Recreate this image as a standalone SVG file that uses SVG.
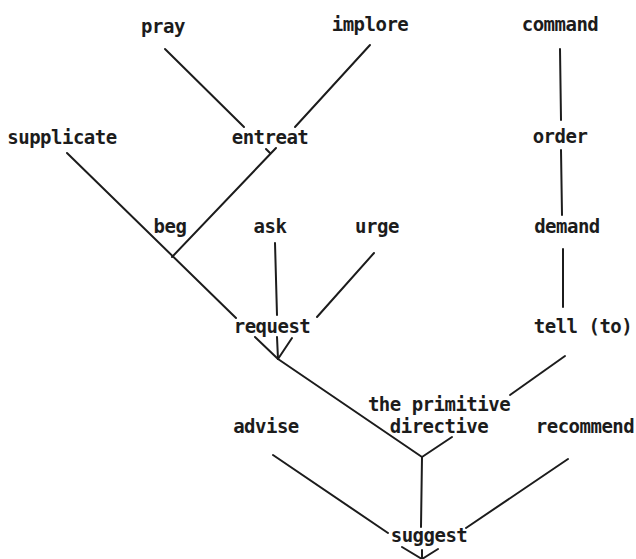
<svg xmlns="http://www.w3.org/2000/svg" width="636" height="559" viewBox="0 0 636 559">
<style>
text{font-family:"DejaVu Sans Mono","Liberation Mono",monospace;font-size:19px;letter-spacing:-0.5px;font-weight:bold;fill:#1c1c1c;text-anchor:middle}
.c line,.c polyline{stroke:#1c1c1c;stroke-width:2;fill:none;stroke-linecap:round}
</style>
<rect width="636" height="559" fill="#fff"/>
<g class="c" id="connectors">
<line x1="165" y1="49" x2="244" y2="127"/>
<line x1="370" y1="45" x2="295" y2="127"/>
<line x1="266" y1="149" x2="270" y2="153"/>
<line x1="276" y1="148" x2="172" y2="257"/>
<line x1="67" y1="153" x2="236" y2="318"/>
<line x1="255" y1="337" x2="278" y2="359"/>
<line x1="275" y1="243" x2="277" y2="315"/>
<line x1="277" y1="337" x2="278" y2="359"/>
<line x1="374" y1="253" x2="317" y2="317"/>
<line x1="292" y1="338" x2="278" y2="359"/>
<line x1="278" y1="359" x2="422" y2="457"/>
<line x1="560" y1="49" x2="561" y2="120"/>
<line x1="561" y1="150" x2="562" y2="215"/>
<line x1="563" y1="249" x2="563" y2="307"/>
<line x1="565" y1="356" x2="510" y2="395"/>
<line x1="452" y1="437" x2="422" y2="457"/>
<line x1="422" y1="457" x2="421" y2="527"/>
<line x1="273" y1="455" x2="388" y2="533"/>
<line x1="568" y1="459" x2="466" y2="528"/>
<line x1="402" y1="547" x2="422" y2="559"/>
<line x1="438" y1="549" x2="422" y2="559"/>
<line x1="422" y1="550" x2="422" y2="559"/>
</g>
<g id="pray"><text x="163" y="33">pray</text></g>
<g id="implore"><text x="370" y="31">implore</text></g>
<g id="command"><text x="560" y="31">command</text></g>
<g id="supplicate"><text x="62" y="144">supplicate</text></g>
<g id="entreat"><text x="270" y="144">entreat</text></g>
<g id="order"><text x="560" y="143">order</text></g>
<g id="beg"><text x="170" y="233">beg</text></g>
<g id="ask"><text x="270" y="233">ask</text></g>
<g id="urge"><text x="377" y="233">urge</text></g>
<g id="demand"><text x="567" y="233">demand</text></g>
<g id="request"><text x="272" y="333">request</text></g>
<g id="tell"><text x="583" y="333">tell (to)</text></g>
<g id="primitive-directive"><text x="439" y="411">the primitive</text><text x="439" y="433">directive</text></g>
<g id="advise"><text x="266" y="433">advise</text></g>
<g id="recommend"><text x="585" y="433">recommend</text></g>
<g id="suggest"><text x="429" y="542">suggest</text></g>
</svg>
